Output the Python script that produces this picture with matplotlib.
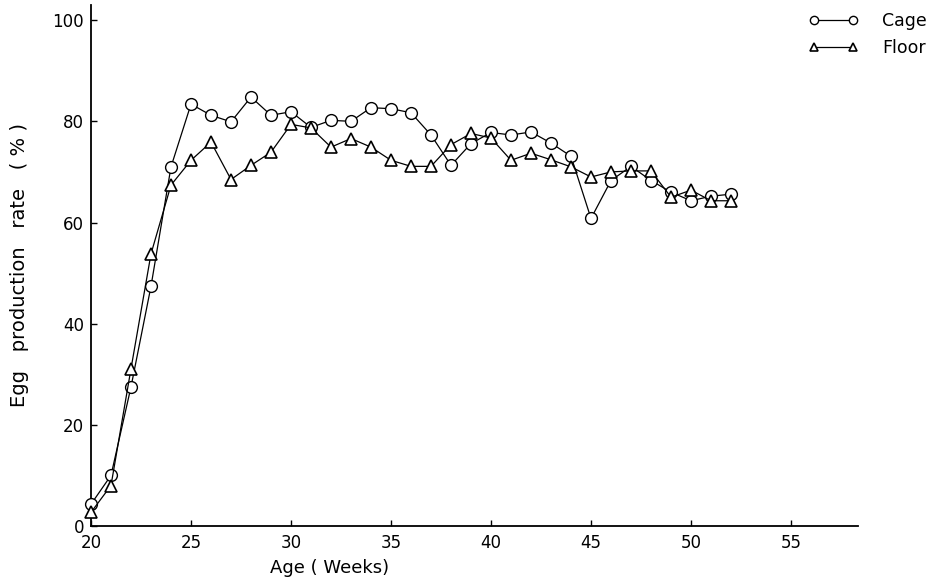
#!/usr/bin/env python3
"""Egg production rate of cage vs floor housed layers, weeks 20-52."""
import matplotlib
matplotlib.use("Agg")
import matplotlib.pyplot as plt

WEEKS = list(range(20, 53))

CAGE = [4.3, 10.0, 27.5, 47.4, 71.0, 83.4, 81.2, 79.9, 84.8, 81.2,
        81.9, 78.8, 80.2, 80.0, 82.7, 82.5, 81.7, 77.3, 71.3, 75.6,
        77.8, 77.3, 77.9, 75.7, 73.1, 60.8, 68.3, 71.1, 68.3, 66.0,
        64.3, 65.2, 65.6]

FLOOR = [2.7, 8.0, 31.1, 53.8, 67.4, 72.3, 75.9, 68.5, 71.3, 73.9,
         79.4, 78.7, 74.9, 76.6, 74.9, 72.3, 71.1, 71.1, 75.4, 77.6,
         76.7, 72.3, 73.7, 72.4, 71.0, 69.0, 70.0, 70.2, 70.2, 65.0,
         66.4, 64.3, 64.3]

X_TICKS = [20, 25, 30, 35, 40, 45, 50, 55]
Y_TICKS = [0, 20, 40, 60, 80, 100]


def main():
    fig = plt.figure(figsize=(9.39, 5.81), dpi=100)
    ax = fig.add_axes([91 / 939, 55 / 581, 767 / 939, 521 / 581])

    ax.plot(WEEKS, CAGE, "-o", color="black", linewidth=0.9,
            markersize=8.5, markerfacecolor="white", markeredgecolor="black",
            markeredgewidth=1.0, label="Cage", clip_on=False, zorder=3)
    ax.plot(WEEKS, FLOOR, "-^", color="black", linewidth=0.9,
            markersize=9, markerfacecolor="white", markeredgecolor="black",
            markeredgewidth=1.2, label="Floor", clip_on=False, zorder=3)

    ax.set_xlim(20, 58.35)
    ax.set_ylim(0, 103)
    ax.set_xticks(X_TICKS)
    ax.set_yticks(Y_TICKS)
    for side in ("top", "right"):
        ax.spines[side].set_visible(False)
    for side in ("left", "bottom"):
        ax.spines[side].set_linewidth(1.3)
    ax.tick_params(direction="in", length=4, width=1.0, labelsize=12)
    ax.tick_params(axis="x", pad=6)
    ax.tick_params(axis="y", pad=5)

    fig.text(20 / 939, 1 - 265 / 581, "Egg   production   rate   ( % )",
             rotation=90, ha="center", va="center", fontsize=14)
    fig.text(330 / 939, 1 - 568 / 581, "Age ( Weeks)",
             ha="center", va="center", fontsize=13)

    leg = ax.legend(loc="upper right", bbox_to_anchor=(1.0, 1.0),
                    bbox_transform=fig.transFigure, frameon=False,
                    numpoints=2, handlelength=2.8, handletextpad=1.4,
                    fontsize=12.5, markerscale=0.7, labelspacing=0.5,
                    borderaxespad=0.3)
    for line in leg.get_lines():
        line.set_linewidth(0.9)

    fig.savefig("out.png", dpi=100)


if __name__ == "__main__":
    main()
